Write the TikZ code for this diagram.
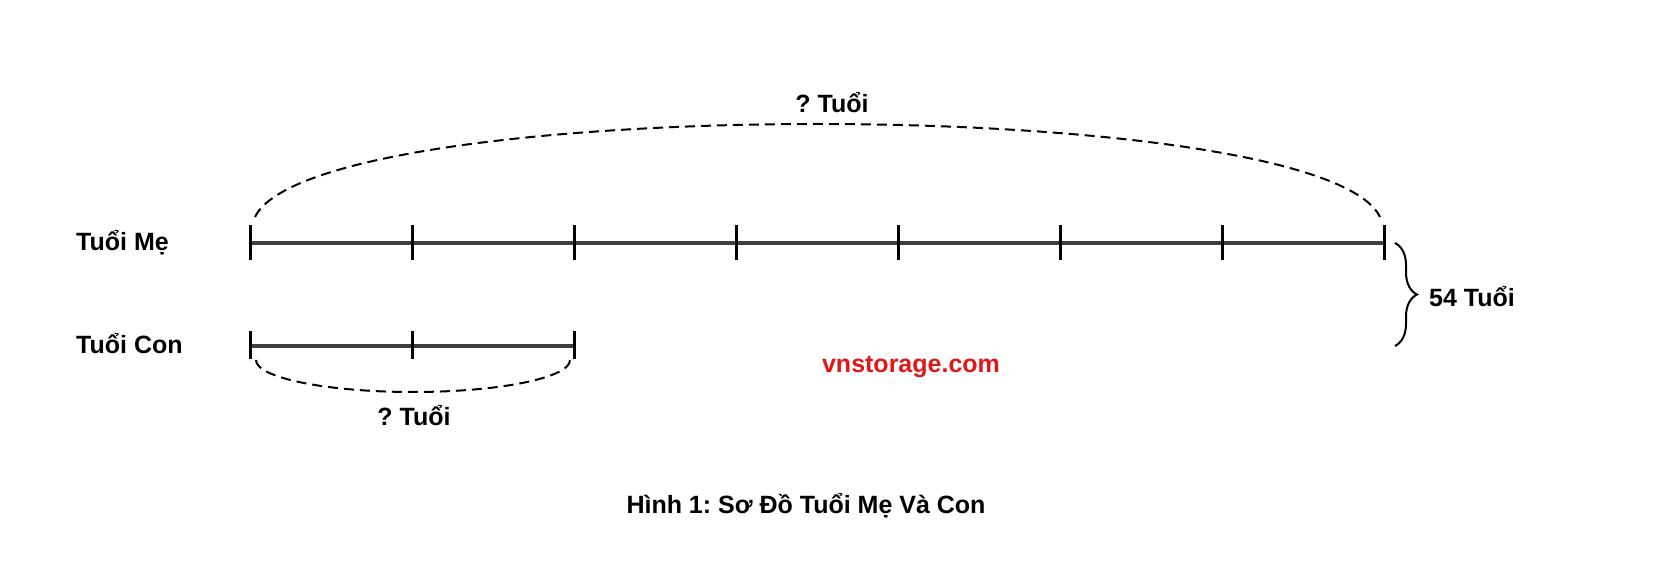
\documentclass[tikz,border=0pt]{standalone}
\usepackage{fontspec}
\setmainfont{Liberation Sans}
\usetikzlibrary{decorations.pathreplacing}
\definecolor{barcol}{RGB}{62,62,62}
\definecolor{webred}{RGB}{225,22,22}
\frenchspacing
\tikzset{
  lbl/.style={font=\fontsize{25}{30}\selectfont\bfseries, inner sep=0pt, anchor=base},
  bar/.style={line width=4.2pt, draw=barcol},
  tickmark/.style={line width=3pt, draw=black},
  dashedarc/.style={line width=2pt, dash pattern=on 10pt off 6pt},
}
\begin{document}
\begin{tikzpicture}[x=1pt,y=1pt]
\useasboundingbox (0,0) rectangle (1660,571);
% mother line
\foreach \i in {0,...,7} {
  \coordinate (m\i) at ({250+162.1*\i},328);
}
\draw[bar] (m0) -- (m7);
\foreach \i in {0,...,7} {
  \draw[tickmark] ([yshift=17.5pt]m\i) -- ([yshift=-17.5pt]m\i);
}
% child line
\foreach \i in {0,...,2} {
  \coordinate (c\i) at ({250+162.1*\i},225);
}
\draw[bar] (c0) -- (c2);
\foreach \i in {0,...,2} {
  \draw[tickmark] ([yshift=15pt]c\i) -- ([yshift=-13pt]c\i);
}
% labels
\node[lbl, anchor=base west] (me) at (76,320) {Tuổi Mẹ};
\node[lbl, anchor=base west] (con) at (76,218) {Tuổi Con};
% top arc
\coordinate (ta) at (255,354);
\coordinate (tb) at (1380,354);
\draw[dashedarc] (ta) .. controls (315,478) and (1320,478) .. (tb);
\node[lbl] (qtop) at (832,458) {? Tuổi};
% bottom arc
\coordinate (ba) at (256,211);
\draw[dashedarc] (ba) arc[start angle=180, end angle=360, x radius=157, y radius=32];
\node[lbl] (qbot) at (414,146) {? Tuổi};
% brace
\coordinate (bt) at (1395,328);
\coordinate (bb) at (1395,225);
\draw[line width=2pt, decorate, decoration={brace, amplitude=22pt}] (bt) -- (bb);
\node[lbl, anchor=west] (total) at (1429,274) {54 Tuổi};
% watermark
\node[lbl, text=webred] (web) at (911,199) {vnstorage.com};
% caption
\node[lbl] (cap) at (806,58) {Hình 1: Sơ Đồ Tuổi Mẹ Và Con};
\end{tikzpicture}
\end{document}
